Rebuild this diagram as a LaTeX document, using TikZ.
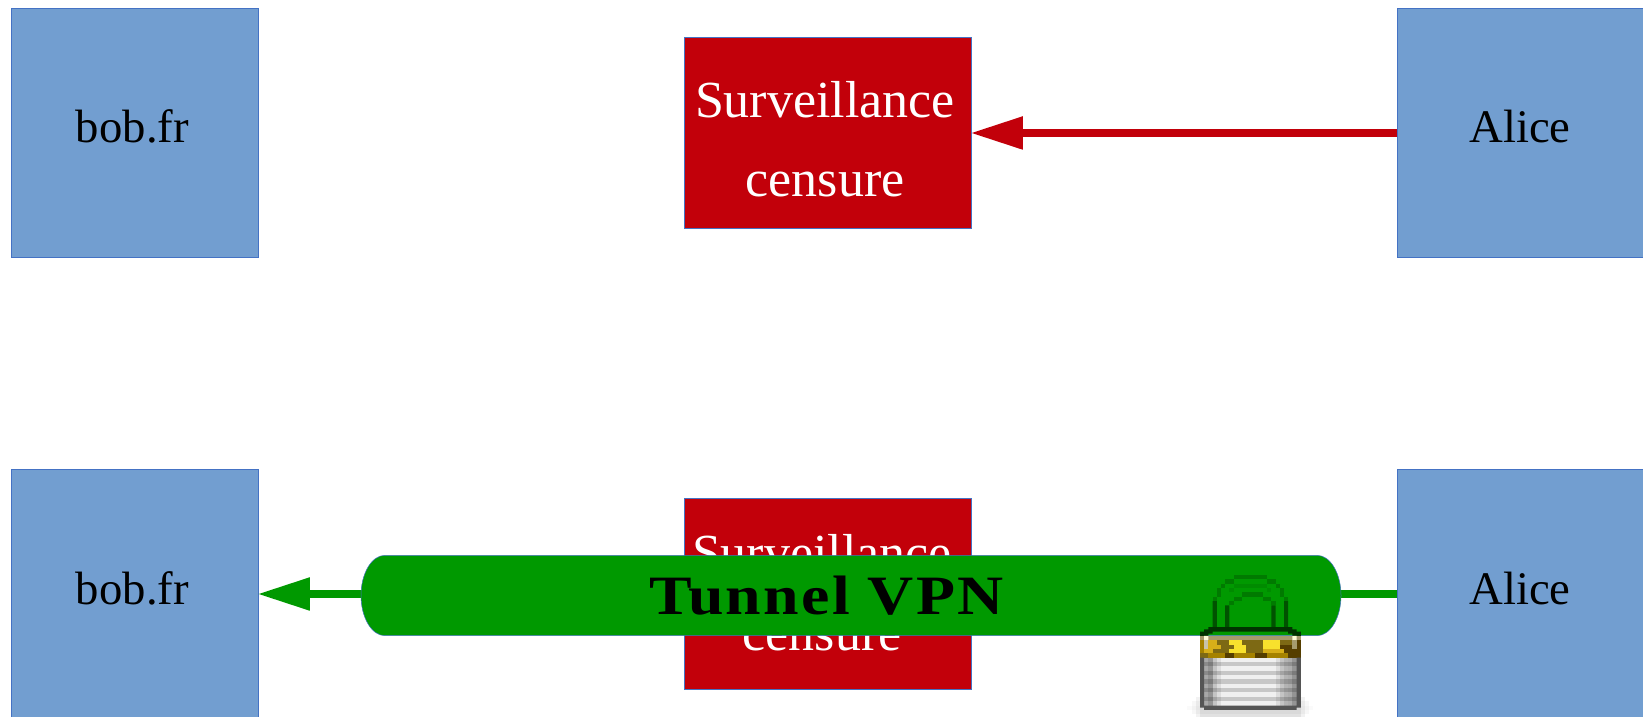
\documentclass[tikz,border=0pt]{standalone}
\usepackage{fontspec}
\setmainfont{Liberation Serif}
\newfontfamily\tunnelfont[FakeStretch=1.15, LetterSpace=4]{Liberation Serif Bold}
\usetikzlibrary{calc}
\usetikzlibrary{arrows.meta}
\usetikzlibrary{positioning}
\definecolor{hostblue}{RGB}{114, 158, 208}
\definecolor{hostline}{RGB}{68, 114, 196}
\definecolor{censorred}{RGB}{194, 0, 10}
\definecolor{tunnelgreen}{RGB}{0, 153, 0}
\definecolor{lockdark}{RGB}{85, 85, 85}
\definecolor{locktan}{RGB}{165, 155, 110}
\definecolor{lockgold}{RGB}{165, 130, 0}
\definecolor{lockamber}{RGB}{215, 175, 25}
\definecolor{lockolive}{RGB}{125, 105, 20}
\definecolor{lockbrown}{RGB}{85, 62, 0}
\definecolor{lockyellow}{RGB}{248, 225, 45}
\newcommand{\hostlabel}[3]{\raisebox{#2}{\kern#1 #3}}
\newcommand{\censorlabel}[2]{\raisebox{#2}[0pt][0pt]{\kern#1\begin{tabular}{@{}c@{}}Surveillance\\censure\end{tabular}}}
\tikzset{
    hostbox/.style={draw=hostline, line width=0.01cm, fill=hostblue, minimum width=2.475cm, minimum height=2.485cm, outer sep=0pt, inner sep=0pt,
        font=\fontsize{13.3}{16}\selectfont, text=black},
    censorbox/.style={draw=hostline, line width=0.01cm, fill=censorred, minimum width=2.875cm, minimum height=1.91cm, outer sep=0pt, inner sep=0pt,
        align=center, text=white, font=\fontsize{14.8}{22.7}\selectfont},
    flowred/.style={draw=censorred, line width=0.08cm, -{Triangle[length=0.51cm, width=0.335cm, line width=0pt, fill=censorred]}},
    flowgreen/.style={draw=tunnelgreen, line width=0.08cm},
    tunnelbox/.style={minimum width=9.80cm, minimum height=0.804cm, outer sep=0pt, inner sep=0pt},
    tunneltext/.style={text=black, font=\fontsize{15.8}{18}\selectfont\tunnelfont}
}
\begin{document}
\begin{tikzpicture}
        \useasboundingbox (0.00,0.00) rectangle (16.43,7.16);
        % top row
        \node[hostbox]   (bobtop)    at ( 1.35,5.83) {\hostlabel{-0.052cm}{0.14cm}{bob.fr}};
        \node[censorbox] (censortop) at ( 8.28,5.83) {\censorlabel{-0.06cm}{-0.206cm}};
        \node[hostbox]   (alicetop)  at (15.21,5.83) {\hostlabel{-0.02cm}{0.14cm}{Alice}};
        \draw[flowred] (alicetop.west) -- (censortop.east);
        % bottom row
        \node[hostbox]   (bobvpn)    at ( 1.35,1.22) {\hostlabel{-0.052cm}{0.11cm}{bob.fr}};
        \node[censorbox] (censorvpn) at ( 8.28,1.22) {\censorlabel{-0.12cm}{-0.13cm}};
        \node[hostbox]   (alicevpn)  at (15.21,1.22) {\hostlabel{-0.02cm}{0.11cm}{Alice}};
        % tunnel
        \node[tunnelbox] (tunnel) at (8.51,1.205) {};
        \draw[flowgreen] (alicevpn.west) -- (tunnel.east |- alicevpn.west);
        \draw[flowgreen, -{Triangle[length=0.51cm, width=0.335cm, line width=0pt, fill=tunnelgreen]}] (tunnel.west |- bobvpn.east) -- (bobvpn.east);
        \filldraw[draw=hostline, line width=0.005cm, fill=tunnelgreen] ($(tunnel.south west)+(0.24,0)$) arc[start angle=270, end angle=90, x radius=0.24, y radius=0.402]
            -- ($(tunnel.north east)+(-0.24,0)$) arc[start angle=90, end angle=-90, x radius=0.24, y radius=0.402] -- cycle;
        \node[tunneltext] (tunnellabel) at ($(tunnel)+(-0.245,0)$) {Tunnel VPN};
        % padlock, one unit is one icon pixel
        \begin{scope}[shift={(12.00,1.41)}, x=0.042cm, y=-0.0435cm]
            % shadow
            \foreach \g/\o in {3/.02, 2/.03, 1/.05, 0/.07}
                \fill[black, opacity=\o] (-\g,27+\g) rectangle (24+\g,34-\g);
            % shackle
            \foreach \a/\r/\b in {8/2/16, 7/3/8, 16/3/17}
                \fill[green!45!black, opacity=.35] (\a,\r) rectangle (\b,\r+1);
            \foreach \a/\r/\b in {8/0/16, 6/1/8, 16/1/18, 5/2/6, 18/2/19, 4/3/5, 19/3/20, 4/4/5, 19/4/20,
                                  3/5/4, 20/5/21, 10/4/15, 8/5/10, 15/5/17, 7/6/8, 17/6/18}
                \fill[green!48!black] (\a,\r) rectangle (\b,\r+1);
            \fill[green!32!black] (3,6) rectangle (4,12) (20,6) rectangle (21,12) (6,7) rectangle (7,12) (17,7) rectangle (18,12);
            \fill[green!20!black] (2,12) rectangle (22,13) (0,13) rectangle (2,14) (22,13) rectangle (24,14) (1,12.5) rectangle (3,13.5) (21,12.5) rectangle (23,13.5);
            % gold band
            \fill[locktan] (0,14) rectangle (24,15);
            \fill[white!85!yellow] (1,14) rectangle (2,15) (22,14) rectangle (23,15);
            \foreach \a/\r/\b/\c in {0/15/1/lockgold, 1/15/2/locktan!60!white, 2/15/4/lockamber, 4/15/7/lockolive, 7/15/10/lockyellow, 10/15/15/lockolive,
                                     15/15/19/lockyellow, 19/15/22/lockolive, 22/15/23/locktan, 23/15/24/lockbrown,
                                     0/16/1/lockgold, 1/16/2/locktan!60!white, 2/16/5/lockamber, 5/16/8/lockolive, 8/16/11/lockyellow, 11/16/15/lockolive,
                                     15/16/19/lockyellow, 19/16/22/lockbrown, 22/16/23/locktan, 23/16/24/lockbrown,
                                     0/17/1/lockgold, 1/17/3/lockamber, 3/17/7/lockolive, 7/17/11/lockyellow, 11/17/13/lockolive, 13/17/15/lockolive,
                                     15/17/20/lockamber, 20/17/23/lockbrown, 23/17/24/lockbrown,
                                     0/18/2/lockolive, 2/18/6/lockgold, 6/18/8/lockbrown, 8/18/13/lockgold, 13/18/16/lockbrown, 16/18/21/lockgold, 21/18/24/lockbrown}
                \fill[\c] (\a,\r) rectangle (\b,\r+1);
            % silver body
            \foreach \r in {19,21,...,29}
                \fill[white!94!black] (0,\r) rectangle (24,\r+1);
            \foreach \r in {20,22,...,28}
                \fill[white!78!black] (0,\r) rectangle (24,\r+1);
            \foreach \c/\o in {1/.30, 2/.38, 3/.18, 4/.08, 18/.08, 19/.18, 20/.25, 21/.28, 22/.38}
                \fill[black, opacity=\o] (\c,19) rectangle (\c+1,30);
            \fill[lockdark] (0,19) rectangle (1,30) (23,19) rectangle (24,30) (1,30) rectangle (23,31) (0,30) rectangle (1,30.5) (23,30) rectangle (24,30.5);
        \end{scope}
\end{tikzpicture}
\end{document}
